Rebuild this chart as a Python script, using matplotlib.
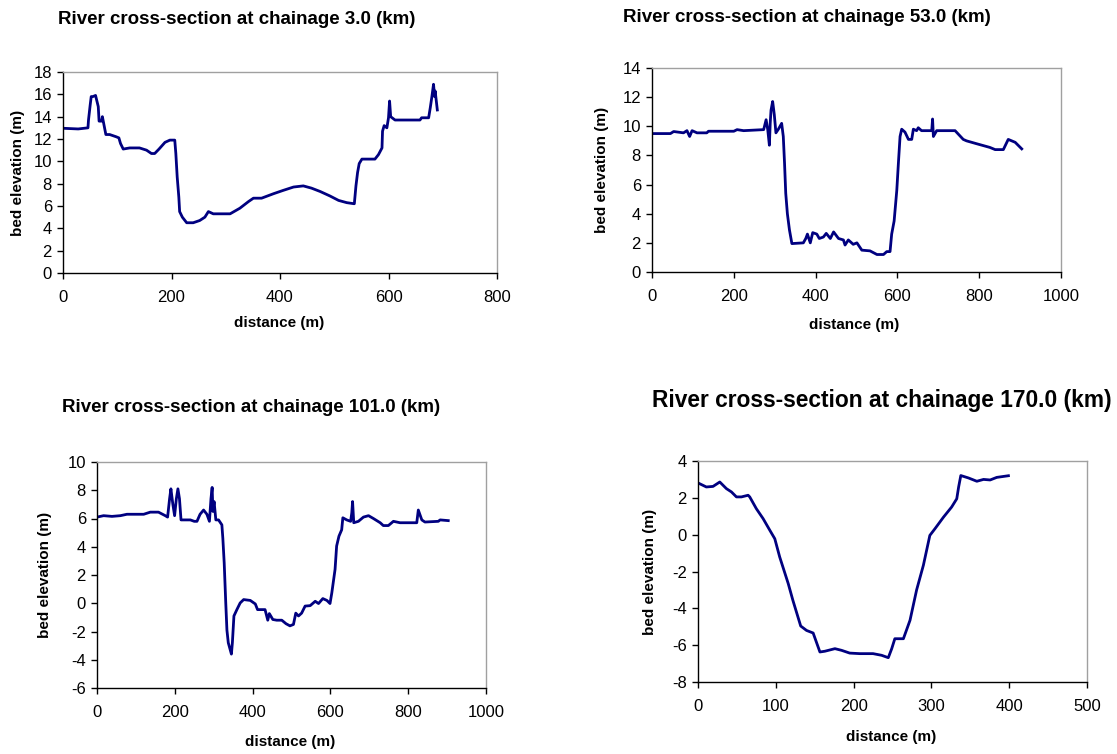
import matplotlib
matplotlib.use("Agg")
import matplotlib.pyplot as plt

W, H = 1117, 754

# chainage 3.0 km
dist_3 = [0, 28, 46, 47, 50, 52, 55, 60, 65, 66.5, 71, 72.6, 75, 79, 86, 98, 103, 106, 111, 123, 141, 154,
          163, 169, 177, 188, 197, 206, 208, 210.5, 213.5, 215, 220, 228, 240, 252, 261.5, 268, 277, 308,
          326, 342, 351, 366, 388, 406, 425, 443, 458, 474, 492, 508, 523, 537, 540, 543, 546, 551, 575,
          581.5, 588, 589, 592, 597, 600, 602, 604, 612, 658, 661, 674, 677, 680, 683, 685, 686, 690]
elev_3 = [12.96, 12.9, 13.0, 13.7, 15.0, 15.8, 15.8, 15.9, 14.9, 13.6, 13.6, 14.0, 13.4, 12.4, 12.4, 12.2,
          12.1, 11.6, 11.1, 11.2, 11.2, 11.0, 10.7, 10.7, 11.1, 11.7, 11.9, 11.9, 10.7, 8.6, 6.8, 5.5, 5.0,
          4.5, 4.5, 4.7, 5.0, 5.5, 5.3, 5.3, 5.8, 6.4, 6.7, 6.7, 7.1, 7.4, 7.7, 7.8, 7.6, 7.3, 6.9, 6.5,
          6.3, 6.2, 7.8, 9.0, 9.8, 10.2, 10.2, 10.6, 11.2, 12.7, 13.2, 13.0, 13.9, 15.4, 14.0, 13.7, 13.7,
          13.9, 13.9, 14.8, 15.8, 16.9, 15.8, 16.3, 14.6]

# chainage 53.0 km
dist_53 = [0, 45, 53, 77, 85.5, 92, 98, 110, 134, 138, 200, 208, 224, 273, 279, 283, 287, 289, 291, 295,
           299, 303, 309, 317, 321, 324, 327, 331, 336, 342, 370, 376, 380, 387, 393, 403, 409, 419, 426,
           436, 444, 456, 468, 472, 480, 492, 501, 513, 533, 550, 566, 574, 582, 586, 592, 598.5, 602.5,
           606.5, 610.5, 618.5, 627, 635, 639, 647, 651, 659, 684, 686, 688, 696, 741, 761, 769, 794, 826,
           839, 859, 871, 888, 904]
elev_53 = [9.5, 9.5, 9.64, 9.55, 9.7, 9.3, 9.7, 9.55, 9.55, 9.66, 9.66, 9.77, 9.7, 9.77, 10.45, 9.77, 8.7,
           10.2, 11.1, 11.7, 10.8, 9.55, 9.8, 10.2, 9.3, 7.5, 5.4, 4.0, 2.9, 1.95, 2.0, 2.3, 2.6, 2.0, 2.7,
           2.6, 2.3, 2.4, 2.65, 2.3, 2.75, 2.3, 2.2, 1.85, 2.2, 1.9, 2.0, 1.5, 1.45, 1.2, 1.2, 1.4, 1.4, 2.6,
           3.5, 5.6, 7.5, 9.3, 9.8, 9.6, 9.1, 9.1, 9.8, 9.7, 9.9, 9.7, 9.7, 10.5, 9.3, 9.7, 9.7, 9.1, 9.0,
           8.8, 8.55, 8.4, 8.4, 9.1, 8.9, 8.45]

# chainage 101.0 km
dist_101 = [0, 17, 38.5, 60, 77, 120, 137, 158, 175.5, 181.5, 186.6, 190, 195, 199.5, 204, 208, 212, 216,
            240, 250, 257, 265, 274, 282.5, 289, 293, 296, 298, 301, 305.5, 312.5, 321, 323.5, 327, 331,
            334, 337.5, 342.5, 345.5, 348, 352, 359.6, 368, 377, 394, 407, 412.7, 432, 439, 443, 452, 462,
            475, 486, 496, 505, 511, 518, 526, 535, 548, 561, 569.5, 580.5, 591, 599, 603.6, 612, 616, 622,
            629, 632, 642, 652, 655, 657, 660, 672, 685, 698, 710.5, 728, 736, 749, 762, 779, 822, 826, 835,
            843, 877.5, 882, 903]
elev_101 = [6.1, 6.2, 6.15, 6.2, 6.3, 6.3, 6.45, 6.45, 6.2, 6.1, 7.4, 8.1, 7.0, 6.2, 7.4, 8.1, 7.4, 5.9,
            5.9, 5.8, 5.8, 6.3, 6.6, 6.3, 5.8, 7.4, 8.2, 6.5, 7.2, 5.9, 5.9, 5.55, 4.6, 2.85, 0.02, -1.9,
            -2.8, -3.3, -3.6, -2.8, -0.9, -0.45, 0.02, 0.26, 0.2, -0.05, -0.45, -0.45, -1.2, -0.73, -1.15,
            -1.2, -1.2, -1.45, -1.6, -1.5, -0.7, -0.9, -0.7, -0.2, -0.17, 0.14, -0.02, 0.33, 0.2, -0.02,
            0.73, 2.4, 4.05, 4.75, 5.2, 6.05, 5.9, 5.8, 6.4, 7.2, 5.7, 5.8, 6.1, 6.2, 6.0, 5.7, 5.5, 5.5,
            5.8, 5.7, 5.7, 6.6, 5.9, 5.75, 5.8, 5.9, 5.85]

# chainage 170.0 km
dist_170 = [0, 10.7, 19.3, 28, 36.5, 43, 49.4, 55.8, 64.4, 66.5, 75, 83.7, 92.3, 98.7, 105, 116, 122, 132,
            139.5, 148, 156.7, 163, 176, 184.5, 195, 208, 225, 236, 244.6, 249, 253, 264, 272.5, 281, 289.7,
            298, 304.7, 315.5, 326, 332.6, 335, 337.8, 347.6, 358.4, 367, 375.5, 384, 390.6, 399]
elev_170 = [2.81, 2.59, 2.62, 2.86, 2.5, 2.32, 2.05, 2.05, 2.14, 2.05, 1.41, 0.87, 0.24, -0.22, -1.21,
            -2.66, -3.57, -4.96, -5.2, -5.34, -6.37, -6.33, -6.19, -6.28, -6.43, -6.46, -6.46, -6.55, -6.68,
            -6.19, -5.65, -5.65, -4.65, -3.0, -1.66, -0.04, 0.33, 0.95, 1.5, 1.95, 2.59, 3.21, 3.08, 2.9,
            3.0, 2.97, 3.11, 3.15, 3.2]

# chainage, data, axis limits/steps, layout in pixels (left, top, right, bottom)
PANELS = [
    ("3.0", dist_3, elev_3, (0, 800, 200), (0, 18, 2), (63, 72, 497, 273),
     (58, 20, 13.5), (18, 279, 323)),
    ("53.0", dist_53, elev_53, (0, 1000, 200), (0, 14, 2), (652, 68, 1061, 272),
     (623, 17, 13.5), (602, 854, 325)),
    ("101.0", dist_101, elev_101, (0, 1000, 200), (-6, 10, 2), (97, 462, 486, 688),
     (62, 408, 13.5), (45, 290, 742)),
    ("170.0", dist_170, elev_170, (0, 500, 100), (-8, 4, 2), (698, 461, 1087, 682),
     (652, 401, 16.4), (650, 891, 737)),
]

plt.rcParams["font.family"] = ["Liberation Sans", "DejaVu Sans"]
plt.rcParams["axes.unicode_minus"] = False

fig = plt.figure(figsize=(W / 100, H / 100), dpi=100)
fig.patch.set_facecolor("white")

for chain, x, y, xl, yl, box, ttl, lab in PANELS:
    l, t, r, b = box
    ax = fig.add_axes([l / W, 1 - b / H, (r - l) / W, (b - t) / H])
    ax.plot(x, y, color="#000080", linewidth=2.0)
    ax.set_xlim(xl[0], xl[1])
    ax.set_ylim(yl[0], yl[1])
    ax.set_xticks(range(xl[0], xl[1] + 1, xl[2]))
    ax.set_yticks(range(yl[0], yl[1] + 1, yl[2]))
    for s in ("top", "right"):
        ax.spines[s].set_color("#a0a0a0")
        ax.spines[s].set_linewidth(1.0)
    for s in ("left", "bottom"):
        ax.spines[s].set_color("black")
        ax.spines[s].set_linewidth(1.0)
    ax.tick_params(axis="both", direction="out", length=4, width=1, labelsize=12, colors="black")
    ax.tick_params(axis="x", pad=8)
    ax.tick_params(axis="y", pad=4)

    fig.text(ttl[0] / W, 1 - ttl[1] / H, f"River cross-section at chainage {chain} (km)",
             fontsize=ttl[2], fontweight="bold", ha="left", va="center")
    fig.text(lab[0] / W, 1 - ((t + b) / 2) / H, "bed elevation (m)", rotation=90,
             fontsize=11, fontweight="bold", ha="center", va="center")
    fig.text(lab[1] / W, 1 - lab[2] / H, "distance (m)",
             fontsize=11, fontweight="bold", ha="center", va="center")

plt.savefig("out.png", dpi=100)
plt.close()
